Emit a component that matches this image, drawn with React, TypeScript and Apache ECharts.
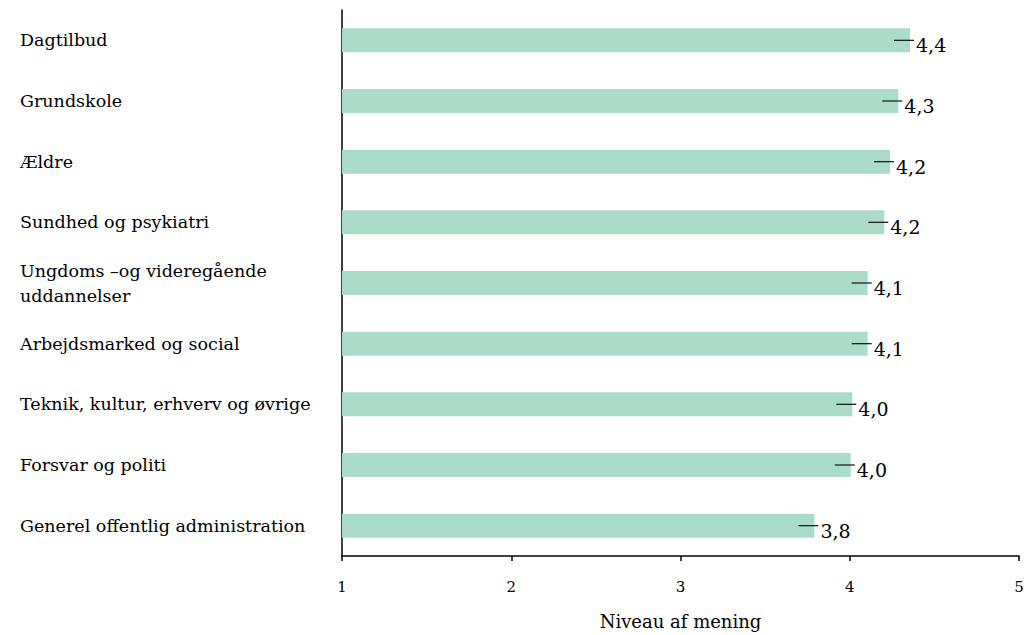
import React, { useEffect, useRef } from "react";
import * as echarts from "echarts";

const categories = [
  "Dagtilbud",
  "Grundskole",
  "Ældre",
  "Sundhed og psykiatri",
  "Ungdoms –og videregående\nuddannelser",
  "Arbejdsmarked og social",
  "Teknik, kultur, erhverv og øvrige",
  "Forsvar og politi",
  "Generel offentlig administration",
];
const values = [4.356, 4.287, 4.238, 4.204, 4.106, 4.106, 4.015, 4.006, 3.791];
const xTicks = [1, 2, 3, 4, 5];

const FONT = "DejaVu Serif";

export default function App() {
  const ref = useRef<HTMLDivElement>(null);
  useEffect(() => {
    if (!ref.current) return;
    const chart = echarts.init(ref.current, undefined, { renderer: "svg" });
    chart.setOption({
      animation: false,
      grid: { left: 342, right: 9, top: 10, bottom: 75, containLabel: false },
      xAxis: {
        type: "value",
        min: xTicks[0],
        max: xTicks[xTicks.length - 1],
        interval: 1,
        axisLine: { show: true, lineStyle: { color: "#000", width: 1.5 } },
        axisTick: { show: true, length: 5, lineStyle: { color: "#000", width: 1.5 } },
        axisLabel: { color: "#000", fontFamily: FONT, fontSize: 15, margin: 23 },
        splitLine: { show: false },
        name: "Niveau af mening",
        nameLocation: "middle",
        nameGap: 56,
        nameTextStyle: { color: "#000", fontFamily: FONT, fontSize: 18 },
      },
      yAxis: {
        type: "category",
        data: categories,
        inverse: true,
        axisLine: { show: true, lineStyle: { color: "#000", width: 1.5 } },
        axisTick: { show: false },
        axisLabel: {
          color: "#000",
          fontFamily: FONT,
          fontSize: 17.5,
          align: "left",
          margin: 322,
          lineHeight: 25,
        },
      },
      series: [
        {
          type: "bar",
          data: values,
          barWidth: 24,
          itemStyle: { color: "#abdcca" },
          label: {
            show: true,
            position: "right",
            distance: 6,
            color: "#000",
            fontFamily: FONT,
            fontSize: 19,
            offset: [0, 5],
            formatter: (p: any) => p.value.toFixed(1).replace(".", ","),
          },
          z: 2,
        },
        {
          type: "custom",
          data: values.map((v, i) => [v, i]),
          renderItem: (params: any, api: any) => {
            const p = api.coord([api.value(0), api.value(1)]);
            return {
              type: "line",
              shape: { x1: p[0] - 16, y1: p[1], x2: p[0] + 4, y2: p[1] },
              style: { stroke: "#222", lineWidth: 1.3 },
            };
          },
          z: 3,
        },
      ],
    });
    return () => chart.dispose();
  }, []);
  return <div ref={ref} style={{ width: 1028, height: 635, position: "absolute", left: 0, top: 0 }} />;
}
